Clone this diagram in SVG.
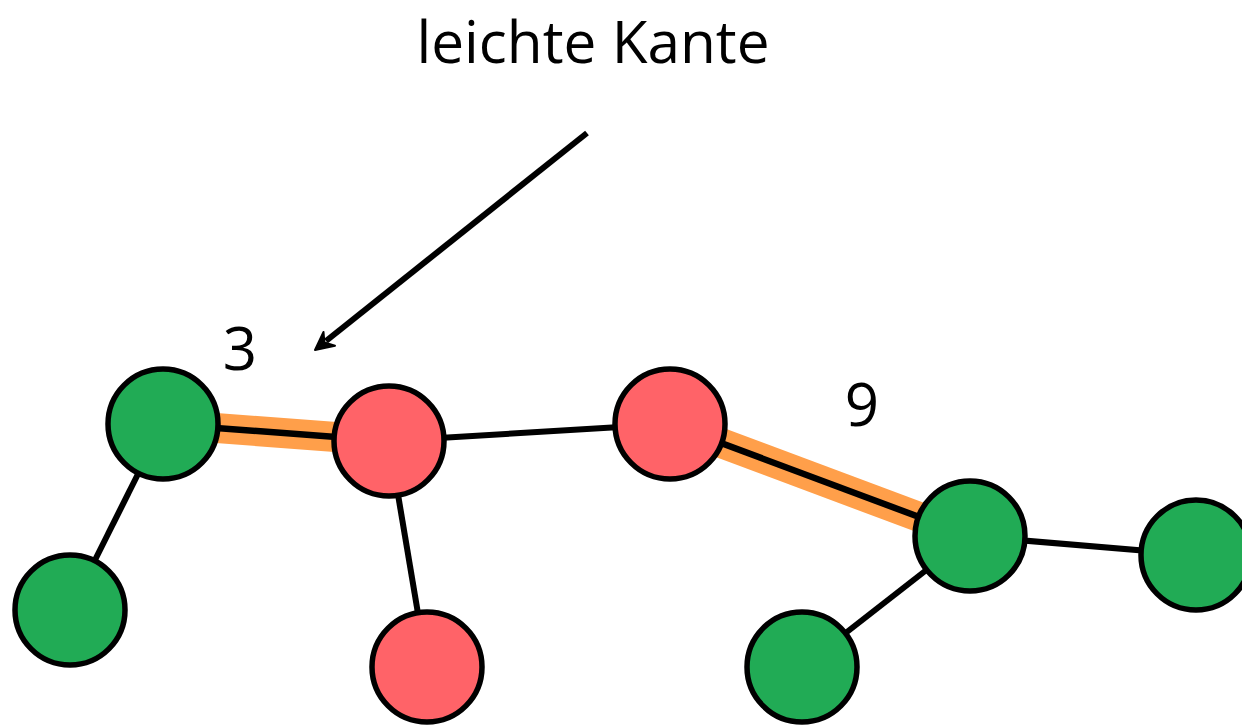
<svg xmlns="http://www.w3.org/2000/svg" width="1242" height="726" viewBox="0 0 1242 726">
  <defs>
    <style>
      .edge { stroke: #000; stroke-width: 6; fill: none; }
      .heavy { stroke: #000; stroke-width: 6.5; fill: none; }
      .light { stroke: #ff9f4a; stroke-width: 30; fill: none; }
      .node { stroke: #000; stroke-width: 5.5; }
      .green { fill: #21ab55; }
      .red { fill: #ff6368; }
      .label { font-family: "Open Sans", "Noto Sans", sans-serif; fill: #000; }
    </style>
  </defs>
  <rect width="1242" height="726" fill="#fff"/>

  <g id="connectors">
    <!-- highlighted light edges underneath -->
    <line class="light" x1="163" y1="424" x2="389" y2="441"/>
    <line class="light" x1="670" y1="424" x2="970" y2="536"/>
    <line class="heavy" x1="163" y1="424" x2="389" y2="441"/>
    <line class="heavy" x1="670" y1="424" x2="970" y2="536"/>
    <line class="edge" x1="163" y1="424" x2="70" y2="610"/>
    <line class="edge" x1="389" y1="441" x2="427" y2="667"/>
    <line class="edge" x1="389" y1="441" x2="670" y2="424"/>
    <line class="edge" x1="970" y1="536" x2="1196" y2="555"/>
    <line class="edge" x1="970" y1="536" x2="802" y2="667"/>
    <!-- pointer arrow -->
    <line class="edge" x1="587" y1="133" x2="326" y2="341"/>
    <path d="M315,350 L323.5,332 L324.4,342.5 L335,345.8 Z" fill="#000" stroke="#000" stroke-width="2" stroke-linejoin="round"/>
  </g>

  <g id="node-a"><circle class="node green" cx="163" cy="424" r="55"/></g>
  <g id="node-b"><circle class="node red" cx="389" cy="441" r="55"/></g>
  <g id="node-c"><circle class="node red" cx="670" cy="424" r="55"/></g>
  <g id="node-d"><circle class="node green" cx="970" cy="536" r="55"/></g>
  <g id="node-e"><circle class="node green" cx="1196" cy="555" r="55"/></g>
  <g id="node-f"><circle class="node green" cx="70" cy="610" r="55"/></g>
  <g id="node-g"><circle class="node red" cx="427" cy="667" r="55"/></g>
  <g id="node-h"><circle class="node green" cx="802" cy="667" r="55"/></g>

  <g id="labels">
    <text class="label" x="593" y="63" font-size="58.5" text-anchor="middle">leichte Kante</text>
    <text class="label" x="240" y="370" font-size="60" text-anchor="middle">3</text>
    <text class="label" x="862" y="426" font-size="60" text-anchor="middle">9</text>
  </g>
</svg>
